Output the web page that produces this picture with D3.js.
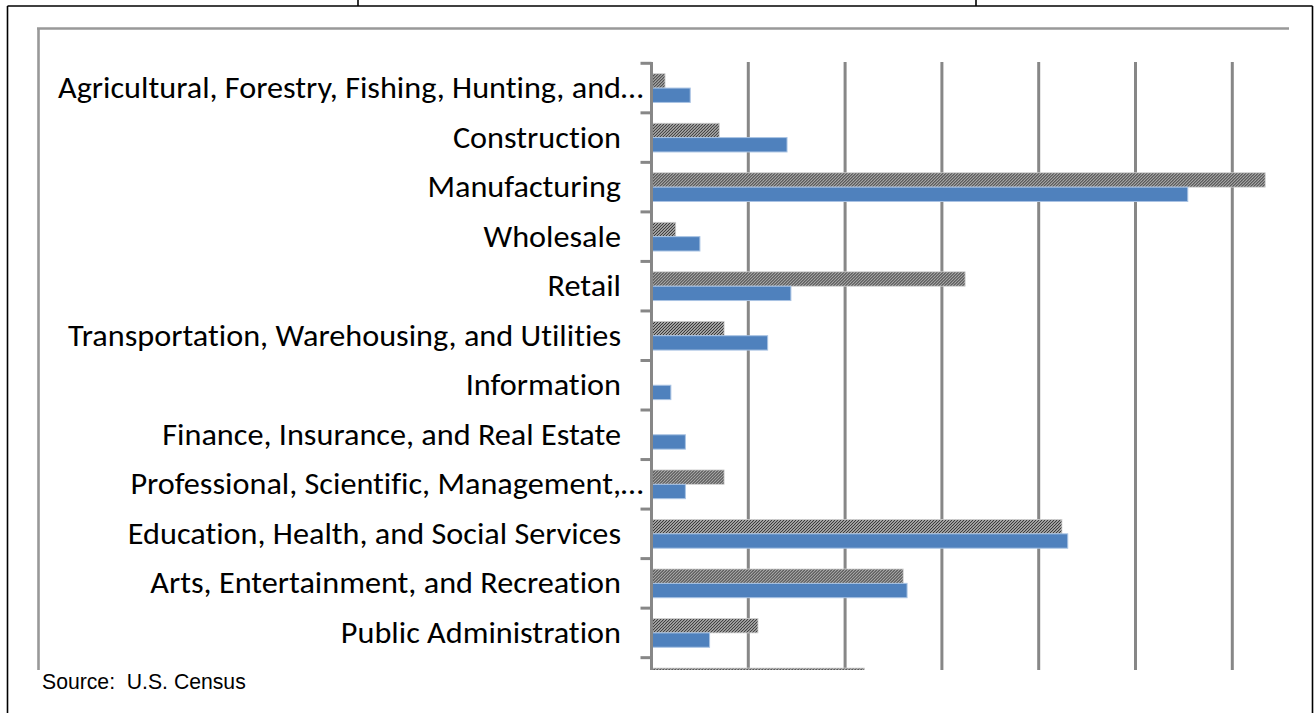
<!DOCTYPE html>
<html>
<head>
<meta charset="utf-8">
<script src="https://cdn.jsdelivr.net/npm/d3@7"></script>
<style>
  html, body { margin: 0; padding: 0; background: #fff; }
  svg { display: block; }
  text { font-variant-ligatures: none; font-feature-settings: "liga" 0, "clig" 0; }
</style>
</head>
<body>
<svg id="chart" width="1314" height="713"></svg>
<script>
// Industry categories, top to bottom
const categories = [
  "Agricultural, Forestry, Fishing, Hunting, and Mining",
  "Construction",
  "Manufacturing",
  "Wholesale",
  "Retail",
  "Transportation, Warehousing, and Utilities",
  "Information",
  "Finance, Insurance, and Real Estate",
  "Professional, Scientific, Management, Administrative",
  "Education, Health, and Social Services",
  "Arts, Entertainment, and Recreation",
  "Public Administration",
  "Other Services"
];

// Labels as shown on the axis (long names are cut with an ellipsis)
const shownLabels = [
  "Agricultural, Forestry, Fishing, Hunting, and",
  "Construction",
  "Manufacturing",
  "Wholesale",
  "Retail",
  "Transportation, Warehousing, and Utilities",
  "Information",
  "Finance, Insurance, and Real Estate",
  "Professional, Scientific, Management,",
  "Education, Health, and Social Services",
  "Arts, Entertainment, and Recreation",
  "Public Administration",
  "Other Services"
];
const truncated = [true, false, false, false, false, false, false, false, true, false, false, false, false];

// Share of employment (%), patterned series (upper bar in each pair)
const patternedValues = [0.7, 3.5, 31.7, 1.25, 16.2, 3.75, 0, 0, 3.75, 21.2, 13.0, 5.5, 11.0];
// Share of employment (%), solid blue series (lower bar in each pair)
const solidValues = [2.0, 7.0, 27.7, 2.5, 7.2, 6.0, 1.0, 1.75, 1.75, 21.5, 13.2, 3.0, 5.5];

// Vertical gridline positions
const xTicks = [0, 5, 10, 15, 20, 25, 30];

const svg = d3.select("#chart");
const W = 1314, H = 713;

const defs = svg.append("defs");
// fine diagonal hatch fill
const pat = defs.append("pattern")
  .attr("id", "hatch")
  .attr("patternUnits", "userSpaceOnUse")
  .attr("width", 3).attr("height", 3);
pat.append("rect").attr("width", 3).attr("height", 3).attr("fill", "#ffffff");
pat.append("path")
  .attr("d", "M-1,1 l2,-2 M0,3 l3,-3 M2,4 l2,-2")
  .attr("stroke", "#333").attr("stroke-width", 1.3);

// plot area clip (content below the frame bottom is cut off)
defs.append("clipPath").attr("id", "plotClip")
  .append("rect").attr("x", 0).attr("y", 0).attr("width", W).attr("height", 670);

// outer black frame
const frame = svg.append("g").attr("stroke", "#000").attr("stroke-width", 1.6).attr("fill", "none");
frame.append("line").attr("x1", 7.5).attr("x2", 7.5).attr("y1", 6).attr("y2", H);
frame.append("line").attr("x1", 7.5).attr("x2", 1312.5).attr("y1", 6).attr("y2", 6);
frame.append("line").attr("x1", 1312.5).attr("x2", 1312.5).attr("y1", 6).attr("y2", H);
frame.append("line").attr("x1", 358).attr("x2", 358).attr("y1", 0).attr("y2", 6);
frame.append("line").attr("x1", 976).attr("x2", 976).attr("y1", 0).attr("y2", 6);

// gray chart-area border (top and left)
const border = svg.append("g").attr("stroke", "#999").attr("stroke-width", 2.6).attr("fill", "none");
border.append("line").attr("x1", 37).attr("x2", 1289).attr("y1", 28.5).attr("y2", 28.5);
border.append("line").attr("x1", 38.5).attr("x2", 38.5).attr("y1", 28).attr("y2", 670);

// scales
const x = d3.scaleLinear().domain([0, 30]).range([651.5, 1232.3]);
const y0 = d3.scaleBand().domain(categories).range([63.3, 63.3 + 13 * 49.53]).padding(0);
const y1 = d3.scaleBand().domain(["patterned", "solid"]).range([0, y0.bandwidth()])
  .paddingInner(0).paddingOuter(0.725);

const plot = svg.append("g").attr("clip-path", "url(#plotClip)");

// gridlines
plot.append("g").selectAll("line")
  .data(xTicks.slice(1))
  .join("line")
  .attr("x1", d => x(d)).attr("x2", d => x(d))
  .attr("y1", 62).attr("y2", 670)
  .attr("stroke", "#878787").attr("stroke-width", 3);

// bars
const rows = categories.map((c, i) => ({ cat: c, p: patternedValues[i], s: solidValues[i] }));
const groups = plot.append("g").selectAll("g")
  .data(rows)
  .join("g")
  .attr("transform", d => `translate(0,${y0(d.cat)})`);

groups.filter(d => d.p > 0).append("rect")
  .attr("x", x(0))
  .attr("y", y1("patterned"))
  .attr("width", d => x(d.p) - x(0))
  .attr("height", y1.bandwidth())
  .attr("fill", "url(#hatch)")
  .attr("stroke", "#d0d0d0").attr("stroke-width", 0.8);

groups.filter(d => d.s > 0).append("rect")
  .attr("x", x(0))
  .attr("y", y1("solid"))
  .attr("width", d => x(d.s) - x(0))
  .attr("height", y1.bandwidth())
  .attr("fill", "#4F81BD")
  .attr("stroke", "#A9C3E3").attr("stroke-width", 1);

// category axis line and tick marks
const axisG = plot.append("g").attr("stroke", "#878787").attr("stroke-width", 3);
axisG.append("line").attr("x1", x(0)).attr("x2", x(0)).attr("y1", 62).attr("y2", 670);
const tickYs = categories.map(c => y0(c)).concat([y0.range()[1]]);
axisG.selectAll("line.tick")
  .data(tickYs)
  .join("line").attr("class", "tick")
  .attr("x1", x(0) - 11).attr("x2", x(0))
  .attr("y1", d => d).attr("y2", d => d);

// category labels (slightly widened glyphs)
const labelFont = "Carlito, Calibri, 'Open Sans', sans-serif";
const labelStretch = 1.075;
const labelG = plot.append("g")
  .attr("font-family", labelFont)
  .attr("font-size", 30)
  .attr("fill", "#000");
labelG.selectAll("text.lbl")
  .data(categories)
  .join("text").attr("class", "lbl")
  .attr("transform", d => `translate(621,${y0(d) + y0.bandwidth() / 2 - 0.5}) scale(${labelStretch},1)`)
  .attr("dy", "0.35em")
  .attr("text-anchor", "end")
  .text((d, i) => shownLabels[i]);
labelG.selectAll("text.ell")
  .data(categories.filter((d, i) => truncated[i]))
  .join("text").attr("class", "ell")
  .attr("transform", d => `translate(621,${y0(d) + y0.bandwidth() / 2 - 0.5}) scale(${labelStretch},1)`)
  .attr("dy", "0.35em")
  .attr("text-anchor", "start")
  .text("\u2026");

// source note
svg.append("text")
  .attr("x", 42).attr("y", 689)
  .attr("font-family", "Liberation Sans, Arial, sans-serif")
  .attr("font-size", 21.2)
  .attr("fill", "#000")
  .style("white-space", "pre")
  .text("Source:  U.S. Census");
</script>
</body>
</html>
